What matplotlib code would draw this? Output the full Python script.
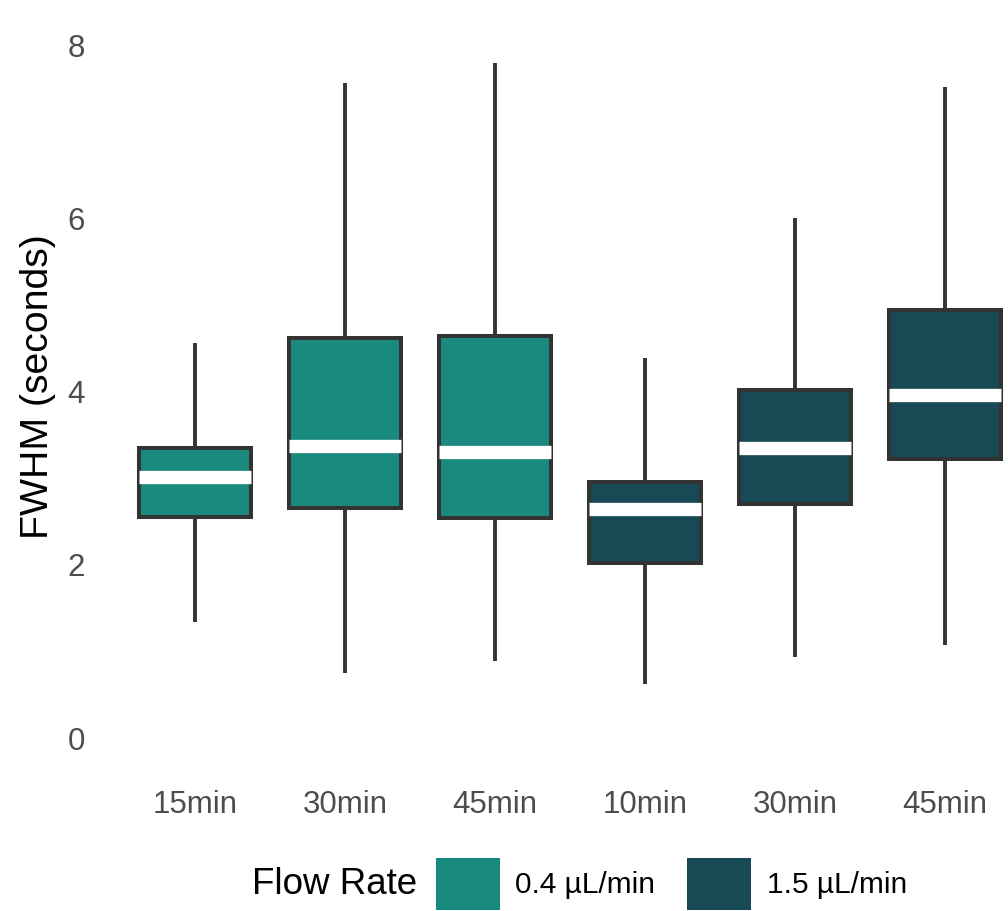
import matplotlib
matplotlib.use("Agg")
import matplotlib.pyplot as plt
from matplotlib.patches import Patch

plt.rcParams['font.family'] = ['Liberation Sans', 'DejaVu Sans']

# ---- data ----
categories = ["15min", "30min", "45min", "10min", "30min", "45min"]
flow_rate = ["0.4 µL/min", "0.4 µL/min", "0.4 µL/min", "1.5 µL/min", "1.5 µL/min", "1.5 µL/min"]
whisker_low = [1.34, 0.75, 0.89, 0.62, 0.94, 1.07]
q1 = [2.55, 2.66, 2.54, 2.02, 2.70, 3.22]
median = [3.01, 3.37, 3.30, 2.64, 3.35, 3.96]
q3 = [3.35, 4.62, 4.64, 2.96, 4.02, 4.94]
whisker_high = [4.56, 7.56, 7.79, 4.39, 6.00, 7.52]
legend_labels = ["0.4 µL/min", "1.5 µL/min"]
y_ticks = [0, 2, 4, 6, 8]

colors = {"0.4 µL/min": "#1a8a7e", "1.5 µL/min": "#174a54"}
edge = "#333333"

W, H = 1008, 911
fig = plt.figure(figsize=(W / 100, H / 100), dpi=100)
ax_left, ax_right, ax_top, ax_bottom = 92, 1008, 20, 784
ax = fig.add_axes([ax_left / W, 1 - ax_bottom / H, (ax_right - ax_left) / W, (ax_bottom - ax_top) / H])

stats = []
for i in range(len(categories)):
    stats.append(dict(med=median[i], q1=q1[i], q3=q3[i], whislo=whisker_low[i],
                      whishi=whisker_high[i], fliers=[], label=categories[i]))

positions = list(range(len(categories)))
bp = ax.bxp(stats, positions=positions, widths=0.745, patch_artist=True,
            showcaps=False, showfliers=False,
            boxprops=dict(edgecolor=edge, linewidth=2.9),
            whiskerprops=dict(color=edge, linewidth=2.8, solid_capstyle='butt'),
            medianprops=dict(color='white', linewidth=9.6, solid_capstyle='butt'))
for patch, fr in zip(bp['boxes'], flow_rate):
    patch.set_facecolor(colors[fr])
for w in bp['whiskers']:
    w.set_zorder(1)

# axis limits so that 0 -> 738px, 8 -> 45px ; category 0 -> 195px, spacing 150px
px_per_unit = (738 - 45) / 8
ax.set_ylim(-(ax_bottom - 738) / px_per_unit, 8 + (45 - ax_top) / px_per_unit)
ax.set_xlim(-(195 - ax_left) / 150, 5 + (ax_right - 945) / 150)

ax.set_yticks(y_ticks)
ax.set_yticklabels([str(t) for t in y_ticks])
ax.set_xticks(positions)
ax.set_xticklabels(categories)
ax.tick_params(axis='both', length=0, colors='#4d4d4d', labelsize=22.5)
ax.tick_params(axis='y', pad=5)
ax.tick_params(axis='x', pad=4)
for s in ax.spines.values():
    s.set_visible(False)
ax.grid(False)

fig.text(38 / W, 1 - 387 / H, "FWHM (seconds)", rotation=90, ha='center', va='center',
         fontsize=28.3, color='black')

# legend
fig.text(252 / W, 1 - 884 / H, "Flow Rate", ha='left', va='center', fontsize=26.5, color='black')
handles = [Patch(facecolor=colors[l], edgecolor='none', label=l) for l in legend_labels]
fig.legend(handles=handles, loc='center left', bbox_to_anchor=(436 / W, 1 - 884 / H),
           ncol=2, frameon=False, fontsize=21.5, borderpad=0, borderaxespad=0,
           handlelength=2.13, handleheight=2.29, handletextpad=0.53, columnspacing=1.07)

fig.savefig("out.png", dpi=100, facecolor='white')
